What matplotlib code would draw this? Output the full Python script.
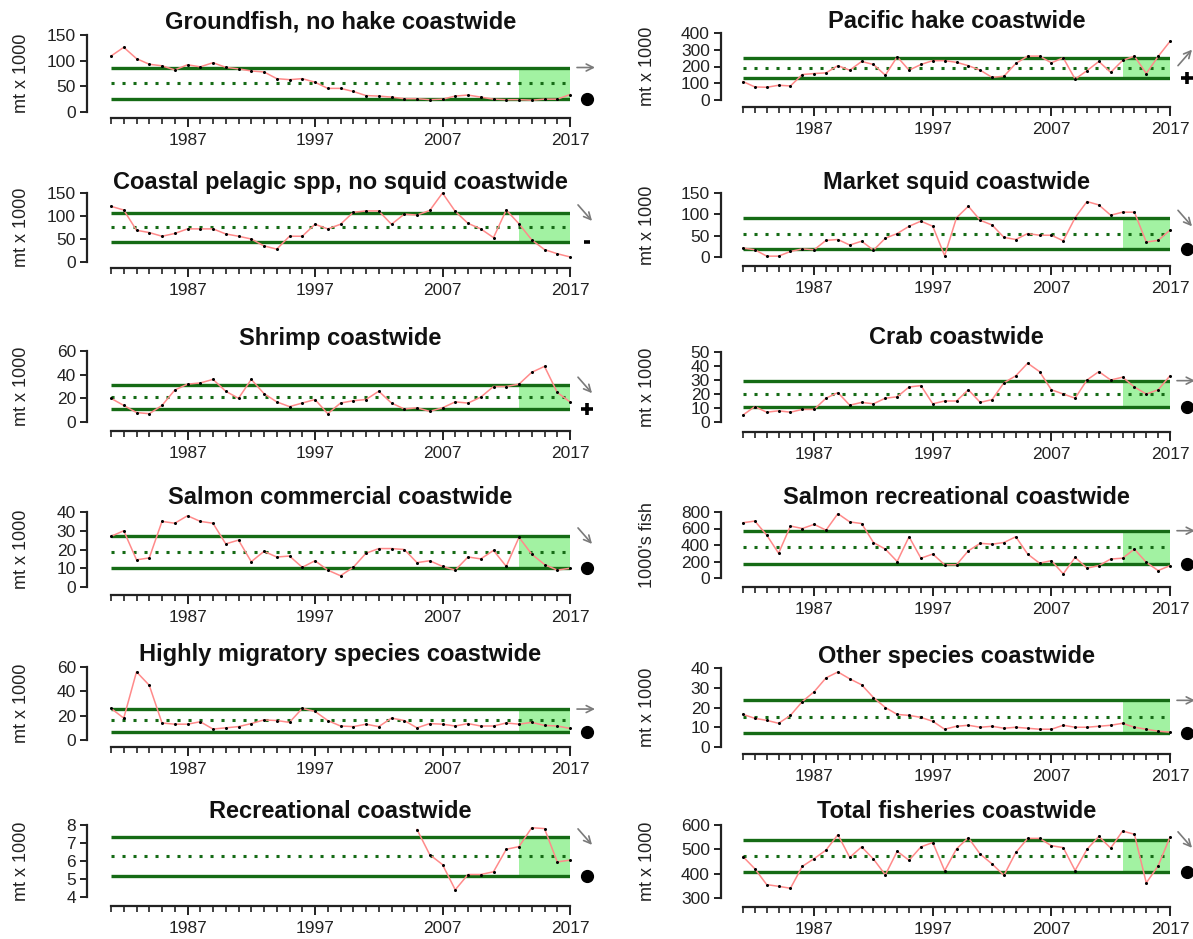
import numpy as np
import matplotlib
matplotlib.use("Agg")
import matplotlib.pyplot as plt
from matplotlib.transforms import offset_copy

plt.rcParams["font.family"] = ["Liberation Sans", "DejaVu Sans"]

# ---------------------------------------------------------------- data
years = np.arange(1981, 2018)
rec_years = np.arange(2005, 2018)

groundfish = [109, 126, 104, 93, 90, 82, 92, 88, 96, 87,
              84, 80, 78, 65, 63, 65, 58, 46, 46, 40,
              32, 31, 29, 26, 26, 24, 25, 31, 33, 29,
              25, 24, 24, 23, 25, 25, 34]
hake = [110, 78, 76, 88, 84, 152, 158, 162, 205, 178,
        230, 212, 148, 258, 178, 212, 235, 235, 225, 205,
        178, 135, 142, 218, 262, 262, 222, 252, 125, 175,
        230, 165, 236, 262, 158, 260, 350]
pelagic = [121, 113, 69, 64, 56, 62, 72, 72, 72, 61,
           56, 50, 35, 28, 56, 56, 82, 72, 82, 108,
           111, 111, 82, 104, 102, 112, 150, 110, 84, 72,
           53, 113, 83, 48, 27, 18, 11]
squid = [21, 17, 2, 2, 13, 19, 17, 39, 41, 28,
         37, 16, 44, 55, 72, 84, 72, 3, 92, 119,
         86, 75, 46, 41, 55, 51, 51, 38, 92, 130,
         122, 98, 105, 105, 35, 39, 63]
shrimp = [20, 14, 8, 7, 14, 27, 32, 33, 36, 26,
          20, 36, 24, 17, 13, 16, 19, 7, 16, 18,
          19, 26, 16, 11, 12, 9, 12, 17, 16, 21,
          30, 30, 32, 42, 47, 25, 17]
crab = [5, 11, 7, 8, 7, 9, 9, 17, 21, 12,
        14, 13, 17, 18, 25, 26, 13, 15, 15, 23,
        14, 16, 28, 33, 42, 36, 23, 20, 17, 30,
        36, 30, 32, 25, 20, 23, 33]
salmon_com = [27, 30, 14.5, 15.5, 35, 34, 38, 35, 34, 23,
              25, 13.5, 19, 16, 16.5, 10.5, 14, 9, 6, 10.5,
              18, 20.5, 20.5, 20, 13, 14, 11, 9, 16, 15,
              19.5, 11, 26.5, 17.5, 12, 9, 10]
salmon_rec = [670, 690, 520, 300, 630, 600, 650, 580, 780, 680,
              660, 430, 350, 200, 500, 240, 290, 160, 160, 330,
              420, 410, 430, 500, 290, 180, 210, 50, 250, 120,
              150, 230, 240, 350, 190, 90, 150]
hms = [26, 18, 56, 45, 14, 13, 13, 15, 9, 10,
       11, 13.5, 16.5, 16, 14.5, 26, 23.5, 16, 11.5, 11,
       13, 11, 18, 16, 10, 13.5, 13, 11.5, 13.5, 11.5,
       11.5, 14, 13, 14.5, 12, 11.5, 9.5]
other = [16.5, 14.5, 13.5, 12, 16, 23, 28, 35, 38, 34.5,
         31.5, 25, 20, 16.5, 16, 15, 13, 9, 10.5, 11,
         10, 10.5, 9.5, 10, 9.5, 9, 9, 11, 10, 10,
         10.5, 11, 12, 10, 9, 8, 7.5]
recreational = [7.75, 6.35, 5.8, 4.4, 5.25, 5.25, 5.4, 6.65, 6.8, 7.85,
                7.8, 5.95, 6.05]
total = [470, 420, 355, 348, 340, 430, 462, 497, 560, 467,
         510, 460, 395, 492, 455, 510, 528, 412, 502, 548,
         480, 440, 393, 487, 545, 545, 515, 507, 413, 500,
         553, 505, 575, 562, 362, 432, 550]

titles = ["Groundfish, no hake coastwide", "Pacific hake coastwide",
          "Coastal pelagic spp, no squid coastwide", "Market squid coastwide",
          "Shrimp coastwide", "Crab coastwide",
          "Salmon commercial coastwide", "Salmon recreational coastwide",
          "Highly migratory species coastwide", "Other species coastwide",
          "Recreational coastwide", "Total fisheries coastwide"]
ylabels = ["mt x 1000"] * 7 + ["1000's fish"] + ["mt x 1000"] * 4
series = [groundfish, hake, pelagic, squid, shrimp, crab,
          salmon_com, salmon_rec, hms, other, recreational, total]
series_years = [years] * 10 + [rec_years, years]
yticks = [(0, 150, 50), (0, 400, 100), (0, 150, 50), (0, 150, 50),
          (0, 60, 20), (0, 50, 10), (0, 40, 10), (0, 800, 200),
          (0, 60, 20), (0, 40, 10), (4, 8, 1), (300, 600, 100)]
# trend over the last five years, and last-five-year mean vs long-term sd
trend = ["flat", "up", "down", "down", "down", "flat",
         "down", "flat", "flat", "flat", "down", "down"]
level = ["within", "above", "below", "within", "above", "within",
         "within", "within", "within", "within", "within", "within"]
recent_start = 2013
year_labels = [1987, 1997, 2007, 2017]

# ---------------------------------------------------------------- layout (pixels)
W, H, DPI = 1193, 939, 100
cols = [dict(x0=111, x1=570, spine=87, ylab=22),
        dict(x0=743, x1=1170, spine=721, ylab=648)]
# (top tick y, bottom tick y, x-axis line y, title y) for each panel
rows = [(35, 112, 118, 22), (33, 100, 107, 22),
        (193, 262, 268, 182), (193, 257, 266, 182),
        (351, 422, 431, 338), (352, 422, 432, 338),
        (512, 587, 595, 498), (512, 578, 587, 498),
        (667, 740, 747, 655), (668, 747, 754, 657),
        (825, 897, 906, 812), (825, 898, 907, 812)]

GREEN = "#156b15"
SHADE = "#a2f2a2"
SERIES = "#ff8a8a"

fig = plt.figure(figsize=(W / DPI, H / DPI), dpi=DPI)
px2pt = 72.0 / DPI

for i in range(12):
    c = cols[i % 2]
    ytop, ybot, xax, ytitle = rows[i]
    lo, hi, step = yticks[i]
    ax = fig.add_axes([c["x0"] / W, 1 - ybot / H,
                       (c["x1"] - c["x0"]) / W, (ybot - ytop) / H])
    ax.set_xlim(1981, 2017)
    ax.set_ylim(lo, hi)
    ax.patch.set_visible(False)

    vals = np.asarray(series[i], dtype=float)
    yrs = series_years[i]
    m = vals.mean()
    sd = vals.std(ddof=1)

    ax.fill_between([recent_start, 2017], m - sd, m + sd, color=SHADE,
                    lw=0, zorder=1)
    ax.plot([1981, 2017], [m + sd, m + sd], color=GREEN, lw=2.4, zorder=2,
            solid_capstyle="butt")
    ax.plot([1981, 2017], [m - sd, m - sd], color=GREEN, lw=2.4, zorder=2,
            solid_capstyle="butt")
    ax.plot([1981, 2017], [m, m], color=GREEN, lw=2.2, zorder=2,
            linestyle=(0, (1, 2.6)))
    ax.plot(yrs, vals, color=SERIES, lw=1.1, zorder=3, clip_on=False)
    ax.plot(yrs, vals, "o", color="black", ms=2.2, mew=0, zorder=4,
            clip_on=False)

    # spines in detached base-graphics style
    for s in ("top", "right"):
        ax.spines[s].set_visible(False)
    ax.spines["left"].set_position(("outward", (c["x0"] - c["spine"]) * px2pt))
    ax.spines["left"].set_bounds(lo, hi)
    ax.spines["bottom"].set_position(("outward", (xax - ybot) * px2pt))
    ax.spines["bottom"].set_bounds(1981, 2017)
    for s in ("left", "bottom"):
        ax.spines[s].set_linewidth(1.6)
        ax.spines[s].set_color("#222222")

    ax.set_yticks(np.arange(lo, hi + step / 2, step))
    ax.set_yticklabels([f"{v:g}" for v in np.arange(lo, hi + step / 2, step)])
    ax.set_xticks(year_labels)
    ax.set_xticks(years, minor=True)
    ax.tick_params(axis="y", length=5, width=1.4, pad=3, labelsize=12.5,
                   colors="#222222")
    ax.tick_params(axis="x", which="major", length=6.5, width=1.4, pad=4,
                   labelsize=12.5, colors="#222222")
    ax.tick_params(axis="x", which="minor", length=4, width=1.2,
                   colors="#222222")

    # titles and axis label
    xc = (c["x0"] + c["x1"]) / 2
    fig.text(xc / W, 1 - ytitle / H, titles[i], ha="center", va="center",
             fontsize=17, fontweight="bold", color="#111111")
    fig.text(c["ylab"] / W, 1 - (ytop + ybot) / 2 / H, ylabels[i],
             rotation=90, ha="center", va="center", fontsize=13,
             color="#222222")

    # trend arrow at the upper line, status symbol at the lower line
    def at(dx, dy, y):
        return offset_copy(ax.transData, fig=fig, x=dx, y=dy, units="dots"), (2017, y)

    if trend[i] == "flat":
        p0, p1 = (7, 0), (25, 0)
    elif trend[i] == "up":
        p0, p1 = (8, -8), (22, 8)
    else:
        p0, p1 = (8, 8), (22, -8)
    t_end, xy = at(p1[0], p1[1], m + sd)
    t_start, _ = at(p0[0], p0[1], m + sd)
    ax.annotate("", xy=xy, xycoords=t_end, xytext=xy, textcoords=t_start,
                arrowprops=dict(arrowstyle="->,head_length=0.5,head_width=0.25",
                                color="#7a7a7a", lw=1.2, shrinkA=0, shrinkB=0),
                annotation_clip=False)
    t_sym, xy = at(17, 0, m - sd)
    if level[i] == "within":
        ax.plot(*xy, "o", color="black", ms=8.5, transform=t_sym,
                clip_on=False)
    elif level[i] == "above":
        ax.plot(*xy, "+", color="black", ms=9, mew=2.6, transform=t_sym,
                clip_on=False)
    else:
        ax.plot(*xy, "_", color="black", ms=5, mew=2.6, transform=t_sym,
                clip_on=False)

fig.savefig("out.png", dpi=DPI, facecolor="white")
